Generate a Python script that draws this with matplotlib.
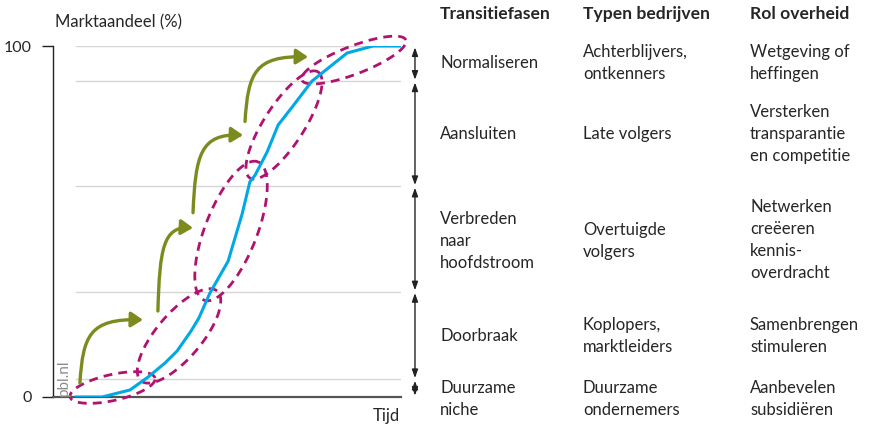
import numpy as np
import matplotlib
matplotlib.use("Agg")
import matplotlib.pyplot as plt
from matplotlib.path import Path
from matplotlib.patches import FancyArrowPatch

plt.rcParams['font.family'] = ['Lato', 'DejaVu Sans']

# S-curve (time vs market share)
tijd = [0, 8, 16.6, 22.2, 27.4, 31.1, 35.4, 37.8, 41.2, 46.8, 51.1, 53.5, 55.1,
        58.8, 62.2, 66.5, 72.6, 83.4, 91.4, 99.7]
aandeel = [0, 0, 2, 5.7, 9.7, 13.1, 18.8, 22.5, 29.6, 38.7, 52.1, 61.3, 63.2,
           69.8, 77.5, 82.6, 90, 98, 100, 100]

# phase boundaries (gridlines)
grenzen = [5, 30, 60, 90, 100]

# dashed loops: end points (data) and width (px)
lus_start = [(-1.8, 0.0), (20.0, 4.6), (39.4, 27.6), (53.5, 62.4), (69.5, 90.3)]
lus_eind = [(24.3, 5.4), (43.4, 30.2), (56.0, 67.0), (74.5, 92.6), (101.5, 101.7)]
lus_breedte = [26, 45, 52, 40, 28]

# green arrows: start and tip (data)
pijl_start = [(1.2, 4.0), (25.2, 24.5), (36.0, 52.5), (52.0, 78.5)]
pijl_eind = [(20.6, 22.0), (36.0, 48.2), (51.4, 74.6), (71.4, 96.9)]

koppen = ['Transitiefasen', 'Typen bedrijven', 'Rol overheid']
fasen = ['Normaliseren', 'Aansluiten', 'Verbreden\nnaar\nhoofdstroom', 'Doorbraak', 'Duurzame\nniche']
bedrijven = ['Achterblijvers,\nontkenners', 'Late volgers', 'Overtuigde\nvolgers',
             'Koplopers,\nmarktleiders', 'Duurzame\nondernemers']
overheid = ['Wetgeving of\nheffingen', 'Versterken\ntransparantie\nen competitie',
            'Netwerken\ncreëeren\nkennis-\noverdracht', 'Samenbrengen\nstimuleren',
            'Aanbevelen\nsubsidiëren']
# vertical centre of each row (px from top)
rij_y = [63, 134, 241, 336, 399]

W, H = 875, 428
fig = plt.figure(figsize=(W / 100, H / 100), dpi=100)
ax = fig.add_axes([53 / W, 1 - 397 / H, (401 - 53) / W, (397 - 46) / H])
ax.set_xlim(-7.08, 100)
ax.set_ylim(0, 100)

tekst = '#262626'
for g in grenzen:
    ax.plot([0, 100], [g, g], color='#d6d6d6', lw=1, zorder=1)

ax.plot(tijd, aandeel, color='#00a9e6', lw=2.2, zorder=4, solid_joinstyle='miter')

for s in ['top', 'right']:
    ax.spines[s].set_visible(False)
ax.spines['left'].set_color('#222222')
ax.spines['left'].set_linewidth(1.0)
ax.spines['bottom'].set_color('#555555')
ax.spines['bottom'].set_linewidth(1.6)
ax.set_xticks([])
ax.set_yticks([0, 100])
ax.set_yticklabels(['0', '100'], fontsize=11.5, color=tekst)
ax.tick_params(axis='y', length=8, width=1, color='#222222', pad=7)

fig.canvas.draw()
tr = ax.transData
inv = tr.inverted()

# dashed loops
t = np.linspace(0, 2 * np.pi, 200)
for p0, p1, b in zip(lus_start, lus_eind, lus_breedte):
    a = np.array(tr.transform(p0))
    c = np.array(tr.transform(p1))
    m = (a + c) / 2
    d = c - a
    L = np.hypot(*d)
    hoek = np.arctan2(d[1], d[0])
    u = L / 2 * np.cos(t)
    v = b / 2 * np.sin(t)
    px = m[0] + u * np.cos(hoek) - v * np.sin(hoek)
    py = m[1] + u * np.sin(hoek) + v * np.cos(hoek)
    pts = inv.transform(np.column_stack([px, py]))
    ax.plot(pts[:, 0], pts[:, 1], color='#b0126f', lw=2.0, ls=(0, (3.2, 2.2)),
            zorder=3, clip_on=False)

# green curved arrows: rise first, then bend to the right
for p0, p1 in zip(pijl_start, pijl_eind):
    dx = p1[0] - p0[0]
    dy = p1[1] - p0[1]
    pad = Path([p0, (p0[0] + 0.05 * dx, p0[1] + 0.75 * dy),
                (p0[0] + 0.15 * dx, p1[1] + 0.02 * dy), p1],
               [Path.MOVETO, Path.CURVE4, Path.CURVE4, Path.CURVE4])
    ax.add_patch(FancyArrowPatch(path=pad, arrowstyle='-|>,head_length=7,head_width=4.5',
                                 color='#7d8b1e', lw=2.4, zorder=5, clip_on=False))

# black double arrows right of the plot
xa = 104.3
rand = [0] + grenzen
for lo, hi in zip(rand[:-1], rand[1:]):
    ax.annotate('', xy=(xa, hi - 0.4), xytext=(xa, lo + 0.4), annotation_clip=False,
                arrowprops=dict(arrowstyle='<|-|>,head_length=0.5,head_width=0.18',
                                color='#222222', lw=1.0, shrinkA=0, shrinkB=0))

fs = 12
fig.text(55 / W, 1 - 22 / H, 'Marktaandeel (%)', fontsize=fs, color=tekst, va='center')
fig.text(400 / W, 1 - 416 / H, 'Tijd', fontsize=fs, color=tekst, va='center', ha='right')
fig.text(64 / W, 1 - 396 / H, 'pbl.nl', fontsize=11, color='#8c8c8c', rotation=90,
         ha='center', va='bottom')

kol_x = [440, 583, 750]
for x, k in zip(kol_x, koppen):
    fig.text(x / W, 1 - 14 / H, k, fontsize=12.6, fontweight='bold', color=tekst, va='center')
for kol, items in zip(kol_x, [fasen, bedrijven, overheid]):
    for y, s in zip(rij_y, items):
        if s.startswith('Netwerken'):
            y = 240
        fig.text(kol / W, 1 - y / H, s, fontsize=fs, color=tekst, va='center',
                 linespacing=1.45)

fig.savefig('out.png', dpi=100)
